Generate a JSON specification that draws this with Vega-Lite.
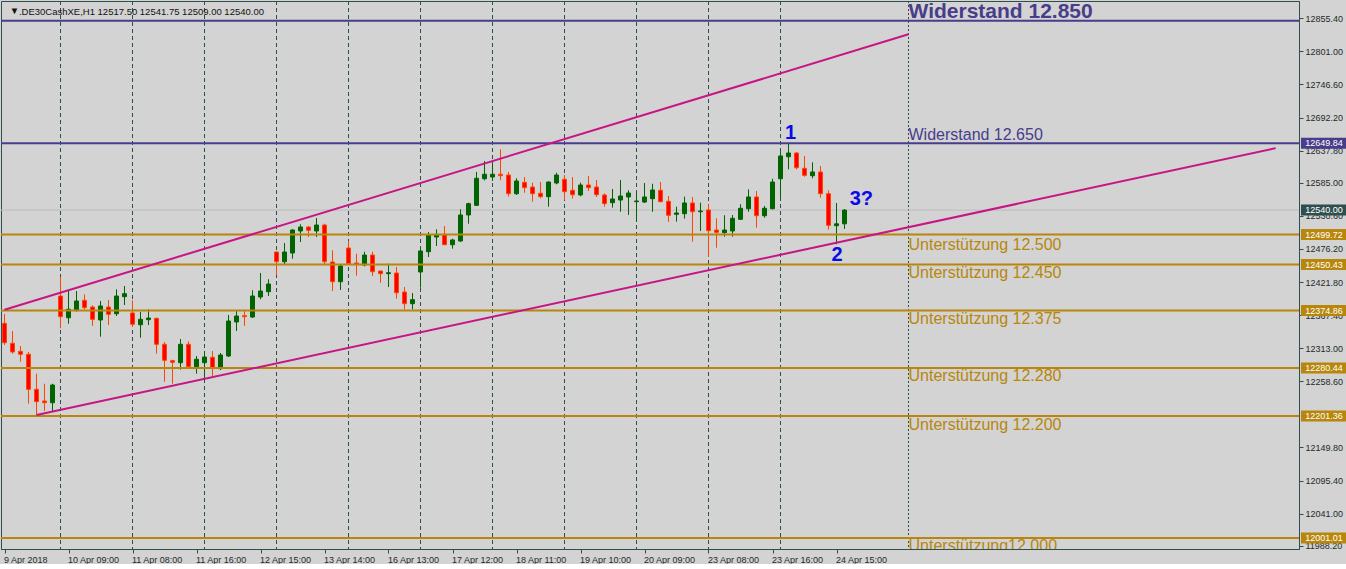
{
  "$schema": "https://vega.github.io/schema/vega-lite/v6.json",
  "width": 1298,
  "height": 548,
  "padding": 0,
  "background": "#d3d3d3",
  "config": {
    "view": {"stroke": "#2f4f4f", "strokeWidth": 1},
    "font": "Liberation Sans",
    "axis": {"labelOverlap": false, "labelFlush": false, "labelBound": false, "grid": false, "tickColor": "#2f4f4f", "domainColor": "#2f4f4f", "labelFont": "Liberation Sans", "labelFontSize": 9, "labelColor": "#1e2a2a", "tickSize": 4, "labelPadding": 2}
  },
  "datasets": {
    "candles": [
      {"i":0,"o":12353.9,"h":12369.2,"l":12318.3,"c":12322.0},
      {"i":1,"o":12321.1,"h":12341.3,"l":12304.0,"c":12306.8},
      {"i":2,"o":12307.9,"h":12316.6,"l":12290.8,"c":12303.0},
      {"i":3,"o":12303.0,"h":12306.8,"l":12221.8,"c":12245.4},
      {"i":4,"o":12245.4,"h":12271.1,"l":12202.4,"c":12225.1},
      {"i":5,"o":12226.2,"h":12254.6,"l":12209.8,"c":12223.4},
      {"i":6,"o":12223.4,"h":12254.6,"l":12209.8,"c":12252.5},
      {"i":7,"o":12398.8,"h":12430.1,"l":12345.7,"c":12364.8},
      {"i":8,"o":12363.1,"h":12408.7,"l":12353.3,"c":12377.0},
      {"i":9,"o":12375.8,"h":12407.0,"l":12373.0,"c":12390.6},
      {"i":10,"o":12391.7,"h":12401.6,"l":12377.0,"c":12379.6},
      {"i":11,"o":12380.7,"h":12383.5,"l":12349.5,"c":12360.5},
      {"i":12,"o":12359.4,"h":12390.6,"l":12331.9,"c":12382.4},
      {"i":13,"o":12380.7,"h":12392.2,"l":12351.1,"c":12368.7},
      {"i":14,"o":12369.7,"h":12409.8,"l":12365.9,"c":12398.8},
      {"i":15,"o":12397.7,"h":12415.3,"l":12384.0,"c":12402.6},
      {"i":16,"o":12370.9,"h":12391.7,"l":12347.9,"c":12352.3},
      {"i":17,"o":12351.6,"h":12372.5,"l":12330.3,"c":12360.5},
      {"i":18,"o":12359.9,"h":12377.0,"l":12351.1,"c":12362.6},
      {"i":19,"o":12362.2,"h":12363.0,"l":12304.0,"c":12319.4},
      {"i":20,"o":12319.4,"h":12323.2,"l":12257.9,"c":12293.1},
      {"i":21,"o":12292.5,"h":12294.1,"l":12254.6,"c":12289.8},
      {"i":22,"o":12289.2,"h":12328.1,"l":12277.7,"c":12319.4},
      {"i":23,"o":12319.4,"h":12324.3,"l":12280.9,"c":12282.6},
      {"i":24,"o":12282.6,"h":12300.2,"l":12271.1,"c":12294.8},
      {"i":25,"o":12289.2,"h":12308.4,"l":12261.9,"c":12298.5},
      {"i":26,"o":12298.0,"h":12308.4,"l":12266.8,"c":12280.9},
      {"i":27,"o":12279.3,"h":12305.1,"l":12277.2,"c":12301.8},
      {"i":28,"o":12300.2,"h":12367.6,"l":12298.5,"c":12357.7},
      {"i":29,"o":12356.1,"h":12375.3,"l":12341.3,"c":12365.9},
      {"i":30,"o":12366.4,"h":12374.2,"l":12349.5,"c":12364.8},
      {"i":31,"o":12364.3,"h":12408.2,"l":12362.6,"c":12398.8},
      {"i":32,"o":12397.2,"h":12436.6,"l":12393.4,"c":12407.0},
      {"i":33,"o":12405.9,"h":12426.3,"l":12398.8,"c":12418.5},
      {"i":34,"o":12471.1,"h":12472.0,"l":12433.3,"c":12455.2},
      {"i":35,"o":12455.2,"h":12485.9,"l":12449.8,"c":12471.1},
      {"i":36,"o":12469.5,"h":12508.5,"l":12460.1,"c":12507.3},
      {"i":37,"o":12505.7,"h":12516.7,"l":12487.6,"c":12512.2},
      {"i":38,"o":12512.2,"h":12513.9,"l":12495.8,"c":12506.8},
      {"i":39,"o":12505.7,"h":12527.0,"l":12495.8,"c":12515.5},
      {"i":40,"o":12515.5,"h":12517.7,"l":12450.9,"c":12455.2},
      {"i":41,"o":12454.7,"h":12473.9,"l":12407.0,"c":12422.3},
      {"i":42,"o":12422.3,"h":12450.9,"l":12408.7,"c":12448.1},
      {"i":43,"o":12477.7,"h":12489.2,"l":12450.9,"c":12451.9},
      {"i":44,"o":12453.1,"h":12468.4,"l":12432.2,"c":12451.4},
      {"i":45,"o":12449.8,"h":12471.6,"l":12447.6,"c":12466.2},
      {"i":46,"o":12466.2,"h":12471.6,"l":12431.7,"c":12438.8},
      {"i":47,"o":12439.9,"h":12440.5,"l":12420.5,"c":12435.5},
      {"i":48,"o":12435.5,"h":12451.9,"l":12413.6,"c":12437.1},
      {"i":49,"o":12436.6,"h":12446.5,"l":12394.4,"c":12404.2},
      {"i":50,"o":12405.4,"h":12413.6,"l":12376.3,"c":12386.2},
      {"i":51,"o":12386.2,"h":12403.7,"l":12377.0,"c":12392.7},
      {"i":52,"o":12438.3,"h":12474.4,"l":12412.5,"c":12472.8},
      {"i":53,"o":12471.6,"h":12504.0,"l":12462.9,"c":12499.1},
      {"i":54,"o":12495.8,"h":12508.5,"l":12481.0,"c":12500.2},
      {"i":55,"o":12500.2,"h":12513.9,"l":12482.8,"c":12483.1},
      {"i":56,"o":12483.1,"h":12493.0,"l":12476.6,"c":12490.9},
      {"i":57,"o":12489.2,"h":12541.3,"l":12488.1,"c":12532.0},
      {"i":58,"o":12532.0,"h":12552.2,"l":12517.7,"c":12550.6},
      {"i":59,"o":12547.9,"h":12602.7,"l":12546.8,"c":12592.3},
      {"i":60,"o":12591.6,"h":12620.7,"l":12589.0,"c":12598.9},
      {"i":61,"o":12594.4,"h":12615.3,"l":12587.9,"c":12598.9},
      {"i":62,"o":12598.9,"h":12640.0,"l":12589.0,"c":12596.6},
      {"i":63,"o":12597.7,"h":12602.7,"l":12562.1,"c":12567.0},
      {"i":64,"o":12567.0,"h":12592.3,"l":12564.9,"c":12587.9},
      {"i":65,"o":12585.7,"h":12594.4,"l":12568.6,"c":12576.9},
      {"i":66,"o":12578.0,"h":12585.1,"l":12553.8,"c":12567.0},
      {"i":67,"o":12567.6,"h":12586.2,"l":12559.4,"c":12562.1},
      {"i":68,"o":12562.1,"h":12587.0,"l":12545.6,"c":12586.2},
      {"i":69,"o":12584.6,"h":12601.5,"l":12582.4,"c":12597.7},
      {"i":70,"o":12590.7,"h":12597.7,"l":12556.6,"c":12570.3},
      {"i":71,"o":12572.6,"h":12594.4,"l":12558.8,"c":12565.3},
      {"i":72,"o":12564.9,"h":12585.1,"l":12562.7,"c":12581.3},
      {"i":73,"o":12581.3,"h":12596.1,"l":12571.4,"c":12576.9},
      {"i":74,"o":12578.0,"h":12589.5,"l":12561.6,"c":12565.3},
      {"i":75,"o":12564.9,"h":12567.6,"l":12545.6,"c":12550.6},
      {"i":76,"o":12552.2,"h":12574.7,"l":12544.0,"c":12558.3},
      {"i":77,"o":12556.6,"h":12589.5,"l":12537.4,"c":12563.2},
      {"i":78,"o":12561.6,"h":12572.6,"l":12532.0,"c":12568.1},
      {"i":79,"o":12553.8,"h":12567.6,"l":12521.0,"c":12555.0},
      {"i":80,"o":12553.3,"h":12584.6,"l":12551.7,"c":12561.6},
      {"i":81,"o":12558.8,"h":12583.4,"l":12537.4,"c":12573.1},
      {"i":82,"o":12572.6,"h":12586.2,"l":12553.0,"c":12553.8},
      {"i":83,"o":12554.5,"h":12563.2,"l":12520.5,"c":12531.5},
      {"i":84,"o":12533.1,"h":12545.6,"l":12521.0,"c":12535.3},
      {"i":85,"o":12534.1,"h":12562.1,"l":12525.9,"c":12551.7},
      {"i":86,"o":12551.7,"h":12561.6,"l":12488.1,"c":12537.4},
      {"i":87,"o":12537.4,"h":12552.2,"l":12505.7,"c":12538.5},
      {"i":88,"o":12540.2,"h":12549.6,"l":12462.9,"c":12506.2},
      {"i":89,"o":12507.3,"h":12526.5,"l":12478.2,"c":12503.5},
      {"i":90,"o":12502.9,"h":12531.6,"l":12496.3,"c":12507.3},
      {"i":91,"o":12505.7,"h":12532.0,"l":12496.3,"c":12526.5},
      {"i":92,"o":12524.9,"h":12549.6,"l":12523.8,"c":12543.0},
      {"i":93,"o":12542.3,"h":12574.2,"l":12537.4,"c":12561.6},
      {"i":94,"o":12561.6,"h":12571.4,"l":12511.1,"c":12530.8},
      {"i":95,"o":12530.8,"h":12546.8,"l":12527.5,"c":12543.0},
      {"i":96,"o":12542.3,"h":12591.6,"l":12541.3,"c":12586.2},
      {"i":97,"o":12591.6,"h":12635.5,"l":12561.6,"c":12629.0},
      {"i":98,"o":12627.8,"h":12649.2,"l":12607.1,"c":12633.9},
      {"i":99,"o":12633.9,"h":12635.5,"l":12607.1,"c":12609.7},
      {"i":100,"o":12608.7,"h":12629.0,"l":12594.9,"c":12597.2},
      {"i":101,"o":12596.6,"h":12618.6,"l":12592.3,"c":12602.7},
      {"i":102,"o":12602.7,"h":12612.5,"l":12560.4,"c":12567.0},
      {"i":103,"o":12567.0,"h":12572.6,"l":12507.8,"c":12515.0},
      {"i":104,"o":12514.4,"h":12551.7,"l":12483.8,"c":12517.5},
      {"i":105,"o":12517.5,"h":12541.75,"l":12509.0,"c":12540.0}
    ],
    "separators": [{"i":7},{"i":16},{"i":25},{"i":34},{"i":43},{"i":52},{"i":61},{"i":70},{"i":79},{"i":88},{"i":97}],
    "levels": [
      {"p":12851.4,"kind":"res"},
      {"p":12649.84,"kind":"res"},
      {"p":12499.72,"kind":"sup"},
      {"p":12450.43,"kind":"sup"},
      {"p":12374.86,"kind":"sup"},
      {"p":12280.44,"kind":"sup"},
      {"p":12201.36,"kind":"sup"},
      {"p":12001.01,"kind":"sup"}
    ],
    "channel": [
      {"line":"upper","i":0,"p":12376.3},
      {"line":"upper","i":113,"p":12829.0},
      {"line":"lower","i":4,"p":12203.2},
      {"line":"lower","i":158.9,"p":12641.9}
    ],
    "leveltext": [
      {"i":113,"p":12654.8,"label":"Widerstand 12.650","kind":"res"},
      {"i":113,"p":12473.9,"label":"Unterstützung 12.500","kind":"sup"},
      {"i":113,"p":12427.9,"label":"Unterstützung 12.450","kind":"sup"},
      {"i":113,"p":12352.3,"label":"Unterstützung 12.375","kind":"sup"},
      {"i":113,"p":12259.1,"label":"Unterstützung 12.280","kind":"sup"},
      {"i":113,"p":12178.5,"label":"Unterstützung 12.200","kind":"sup"},
      {"i":113,"p":11979.6,"label":"Unterstützung12.000","kind":"sup"}
    ],
    "waves": [
      {"i":98.27,"p":12656.4,"label":"1"},
      {"i":104.06,"p":12456.3,"label":"2"},
      {"i":107.1,"p":12548.4,"label":"3?"}
    ],
    "header": [
      {"i":0.65,"p":12862.0,"label":"▼"},
      {"i":1.8,"p":12860.8,"label":".DE30CashXE,H1  12517.50 12541.75 12509.00 12540.00"}
    ],
    "boxes": [
      {"p":12649.84,"kind":"res","label":"12649.84"},
      {"p":12540.00,"kind":"bid","label":"12540.00"},
      {"p":12499.72,"kind":"sup","label":"12499.72"},
      {"p":12450.43,"kind":"sup","label":"12450.43"},
      {"p":12374.86,"kind":"sup","label":"12374.86"},
      {"p":12280.44,"kind":"sup","label":"12280.44"},
      {"p":12201.36,"kind":"sup","label":"12201.36"},
      {"p":12001.01,"kind":"sup","label":"12001.01"}
    ]
  },
  "layer": [
    {
      "data": {"name": "separators"},
      "mark": {"type": "rule", "color": "#2f4f4f", "strokeWidth": 1, "strokeDash": [4, 3]},
      "encoding": {
        "x": {"field": "i", "type": "quantitative", "title": null, "scale": {"domain": [-0.4375, 161.8125], "nice": false, "zero": false, "padding": 0},
          "axis": {"values": [0,8,16,24,32,40,48,56,64,72,80,88,96,104], "labelExpr": "['9 Apr 2018','10 Apr 09:00','11 Apr 08:00','11 Apr 16:00','12 Apr 15:00','13 Apr 14:00','16 Apr 13:00','17 Apr 12:00','18 Apr 11:00','19 Apr 10:00','20 Apr 09:00','23 Apr 08:00','23 Apr 16:00','24 Apr 15:00'][round(datum.value/8)]", "labelAlign": "left", "labelBaseline": "top", "labelOffset": -1}}
      }
    },
    {
      "data": {"values": [{"i": 113}]},
      "mark": {"type": "rule", "color": "#2f4f4f", "strokeWidth": 1, "strokeDash": [2, 2]},
      "encoding": {
        "x": {"field": "i", "type": "quantitative", "title": null, "scale": {"domain": [-0.4375, 161.8125], "nice": false, "zero": false, "padding": 0},
          "axis": {"values": [0,8,16,24,32,40,48,56,64,72,80,88,96,104], "labelExpr": "['9 Apr 2018','10 Apr 09:00','11 Apr 08:00','11 Apr 16:00','12 Apr 15:00','13 Apr 14:00','16 Apr 13:00','17 Apr 12:00','18 Apr 11:00','19 Apr 10:00','20 Apr 09:00','23 Apr 08:00','23 Apr 16:00','24 Apr 15:00'][round(datum.value/8)]", "labelAlign": "left", "labelBaseline": "top", "labelOffset": -1}}
      }
    },
    {
      "data": {"values": [{"p": 12540.0}]},
      "mark": {"type": "rule", "color": "#bdbdbd", "strokeWidth": 1},
      "encoding": {
        "y": {"field": "p", "type": "quantitative", "title": null,
          "scale": {"domain": [11982.9, 12883.77], "nice": false, "zero": false, "padding": 0},
          "axis": {"orient": "right", "values": [12855.4, 12801, 12746.6, 12692.2, 12637.8, 12585, 12530.6, 12476.2, 12421.8, 12367.4, 12313, 12258.6, 12149.8, 12095.4, 12041, 11988.2], "format": ".2f", "labelAlign": "left", "labelBaseline": "middle", "labelOverlap": false}
        }
      }
    },
    {
      "data": {"name": "candles"},
      "mark": {"type": "rule", "strokeWidth": 1},
      "encoding": {
        "x": {"field": "i", "type": "quantitative", "title": null, "scale": {"domain": [-0.4375, 161.8125], "nice": false, "zero": false, "padding": 0},
          "axis": {"values": [0,8,16,24,32,40,48,56,64,72,80,88,96,104], "labelExpr": "['9 Apr 2018','10 Apr 09:00','11 Apr 08:00','11 Apr 16:00','12 Apr 15:00','13 Apr 14:00','16 Apr 13:00','17 Apr 12:00','18 Apr 11:00','19 Apr 10:00','20 Apr 09:00','23 Apr 08:00','23 Apr 16:00','24 Apr 15:00'][round(datum.value/8)]", "labelAlign": "left", "labelBaseline": "top", "labelOffset": -1}},
        "y": {"field": "l", "type": "quantitative", "title": null, "scale": {"domain": [11982.9, 12883.77], "nice": false, "zero": false, "padding": 0},
          "axis": {"orient": "right", "values": [12855.4, 12801, 12746.6, 12692.2, 12637.8, 12585, 12530.6, 12476.2, 12421.8, 12367.4, 12313, 12258.6, 12149.8, 12095.4, 12041, 11988.2], "format": ".2f", "labelAlign": "left", "labelBaseline": "middle", "labelOverlap": false}},
        "y2": {"field": "h"},
        "color": {"condition": {"test": "datum.c >= datum.o", "value": "#006400"}, "value": "#ff4500"}
      }
    },
    {
      "data": {"name": "candles"},
      "mark": {"type": "bar", "width": 4, "strokeWidth": 1, "orient": "vertical"},
      "encoding": {
        "x": {"field": "i", "type": "quantitative", "title": null, "scale": {"domain": [-0.4375, 161.8125], "nice": false, "zero": false, "padding": 0},
          "axis": {"values": [0,8,16,24,32,40,48,56,64,72,80,88,96,104], "labelExpr": "['9 Apr 2018','10 Apr 09:00','11 Apr 08:00','11 Apr 16:00','12 Apr 15:00','13 Apr 14:00','16 Apr 13:00','17 Apr 12:00','18 Apr 11:00','19 Apr 10:00','20 Apr 09:00','23 Apr 08:00','23 Apr 16:00','24 Apr 15:00'][round(datum.value/8)]", "labelAlign": "left", "labelBaseline": "top", "labelOffset": -1}},
        "y": {"field": "o", "type": "quantitative", "title": null, "scale": {"domain": [11982.9, 12883.77], "nice": false, "zero": false, "padding": 0},
          "axis": {"orient": "right", "values": [12855.4, 12801, 12746.6, 12692.2, 12637.8, 12585, 12530.6, 12476.2, 12421.8, 12367.4, 12313, 12258.6, 12149.8, 12095.4, 12041, 11988.2], "format": ".2f", "labelAlign": "left", "labelBaseline": "middle", "labelOverlap": false}},
        "y2": {"field": "c"},
        "fill": {"condition": {"test": "datum.c >= datum.o", "value": "#006400"}, "value": "#ff0000"},
        "stroke": {"condition": {"test": "datum.c >= datum.o", "value": "#006400"}, "value": "#ff4500"}
      }
    },
    {
      "data": {"name": "levels"},
      "mark": {"type": "rule", "strokeWidth": 2},
      "encoding": {
        "y": {"field": "p", "type": "quantitative", "title": null, "scale": {"domain": [11982.9, 12883.77], "nice": false, "zero": false, "padding": 0},
          "axis": {"orient": "right", "values": [12855.4, 12801, 12746.6, 12692.2, 12637.8, 12585, 12530.6, 12476.2, 12421.8, 12367.4, 12313, 12258.6, 12149.8, 12095.4, 12041, 11988.2], "format": ".2f", "labelAlign": "left", "labelBaseline": "middle", "labelOverlap": false}},
        "color": {"field": "kind", "type": "nominal", "legend": null, "scale": {"domain": ["res", "sup", "bid"], "range": ["#483d8b", "#b8860b", "#2f4f4f"]}}
      }
    },
    {
      "data": {"name": "channel"},
      "mark": {"type": "line", "color": "#c71585", "strokeWidth": 2},
      "encoding": {
        "x": {"field": "i", "type": "quantitative", "title": null, "scale": {"domain": [-0.4375, 161.8125], "nice": false, "zero": false, "padding": 0},
          "axis": {"values": [0,8,16,24,32,40,48,56,64,72,80,88,96,104], "labelExpr": "['9 Apr 2018','10 Apr 09:00','11 Apr 08:00','11 Apr 16:00','12 Apr 15:00','13 Apr 14:00','16 Apr 13:00','17 Apr 12:00','18 Apr 11:00','19 Apr 10:00','20 Apr 09:00','23 Apr 08:00','23 Apr 16:00','24 Apr 15:00'][round(datum.value/8)]", "labelAlign": "left", "labelBaseline": "top", "labelOffset": -1}},
        "y": {"field": "p", "type": "quantitative", "title": null, "scale": {"domain": [11982.9, 12883.77], "nice": false, "zero": false, "padding": 0},
          "axis": {"orient": "right", "values": [12855.4, 12801, 12746.6, 12692.2, 12637.8, 12585, 12530.6, 12476.2, 12421.8, 12367.4, 12313, 12258.6, 12149.8, 12095.4, 12041, 11988.2], "format": ".2f", "labelAlign": "left", "labelBaseline": "middle", "labelOverlap": false}},
        "detail": {"field": "line"}
      }
    },
    {
      "data": {"name": "leveltext"},
      "mark": {"type": "text", "align": "left", "baseline": "alphabetic", "font": "Liberation Sans", "fontSize": 16, "clip": true},
      "encoding": {
        "x": {"field": "i", "type": "quantitative", "title": null, "scale": {"domain": [-0.4375, 161.8125], "nice": false, "zero": false, "padding": 0},
          "axis": {"values": [0,8,16,24,32,40,48,56,64,72,80,88,96,104], "labelExpr": "['9 Apr 2018','10 Apr 09:00','11 Apr 08:00','11 Apr 16:00','12 Apr 15:00','13 Apr 14:00','16 Apr 13:00','17 Apr 12:00','18 Apr 11:00','19 Apr 10:00','20 Apr 09:00','23 Apr 08:00','23 Apr 16:00','24 Apr 15:00'][round(datum.value/8)]", "labelAlign": "left", "labelBaseline": "top", "labelOffset": -1}},
        "y": {"field": "p", "type": "quantitative", "title": null, "scale": {"domain": [11982.9, 12883.77], "nice": false, "zero": false, "padding": 0},
          "axis": {"orient": "right", "values": [12855.4, 12801, 12746.6, 12692.2, 12637.8, 12585, 12530.6, 12476.2, 12421.8, 12367.4, 12313, 12258.6, 12149.8, 12095.4, 12041, 11988.2], "format": ".2f", "labelAlign": "left", "labelBaseline": "middle", "labelOverlap": false}},
        "text": {"field": "label"},
        "color": {"field": "kind", "type": "nominal", "legend": null, "scale": {"domain": ["res", "sup", "bid"], "range": ["#483d8b", "#b8860b", "#2f4f4f"]}}
      }
    },
    {
      "data": {"values": [{"i": 113, "p": 12856.3, "label": "Widerstand 12.850"}]},
      "mark": {"type": "text", "align": "left", "baseline": "alphabetic", "font": "Liberation Sans", "fontSize": 21, "fontWeight": "bold", "color": "#483d8b"},
      "encoding": {
        "x": {"field": "i", "type": "quantitative", "title": null, "scale": {"domain": [-0.4375, 161.8125], "nice": false, "zero": false, "padding": 0},
          "axis": {"values": [0,8,16,24,32,40,48,56,64,72,80,88,96,104], "labelExpr": "['9 Apr 2018','10 Apr 09:00','11 Apr 08:00','11 Apr 16:00','12 Apr 15:00','13 Apr 14:00','16 Apr 13:00','17 Apr 12:00','18 Apr 11:00','19 Apr 10:00','20 Apr 09:00','23 Apr 08:00','23 Apr 16:00','24 Apr 15:00'][round(datum.value/8)]", "labelAlign": "left", "labelBaseline": "top", "labelOffset": -1}},
        "y": {"field": "p", "type": "quantitative", "title": null, "scale": {"domain": [11982.9, 12883.77], "nice": false, "zero": false, "padding": 0},
          "axis": {"orient": "right", "values": [12855.4, 12801, 12746.6, 12692.2, 12637.8, 12585, 12530.6, 12476.2, 12421.8, 12367.4, 12313, 12258.6, 12149.8, 12095.4, 12041, 11988.2], "format": ".2f", "labelAlign": "left", "labelBaseline": "middle", "labelOverlap": false}},
        "text": {"field": "label"}
      }
    },
    {
      "data": {"name": "waves"},
      "mark": {"type": "text", "align": "center", "baseline": "alphabetic", "font": "Liberation Sans", "fontSize": 20, "fontWeight": "bold", "color": "#0a0ae6"},
      "encoding": {
        "x": {"field": "i", "type": "quantitative", "title": null, "scale": {"domain": [-0.4375, 161.8125], "nice": false, "zero": false, "padding": 0},
          "axis": {"values": [0,8,16,24,32,40,48,56,64,72,80,88,96,104], "labelExpr": "['9 Apr 2018','10 Apr 09:00','11 Apr 08:00','11 Apr 16:00','12 Apr 15:00','13 Apr 14:00','16 Apr 13:00','17 Apr 12:00','18 Apr 11:00','19 Apr 10:00','20 Apr 09:00','23 Apr 08:00','23 Apr 16:00','24 Apr 15:00'][round(datum.value/8)]", "labelAlign": "left", "labelBaseline": "top", "labelOffset": -1}},
        "y": {"field": "p", "type": "quantitative", "title": null, "scale": {"domain": [11982.9, 12883.77], "nice": false, "zero": false, "padding": 0},
          "axis": {"orient": "right", "values": [12855.4, 12801, 12746.6, 12692.2, 12637.8, 12585, 12530.6, 12476.2, 12421.8, 12367.4, 12313, 12258.6, 12149.8, 12095.4, 12041, 11988.2], "format": ".2f", "labelAlign": "left", "labelBaseline": "middle", "labelOverlap": false}},
        "text": {"field": "label"}
      }
    },
    {
      "data": {"name": "header"},
      "mark": {"type": "text", "align": "left", "baseline": "alphabetic", "font": "Liberation Sans", "fontSize": 9.5, "color": "#111111"},
      "encoding": {
        "x": {"field": "i", "type": "quantitative", "title": null, "scale": {"domain": [-0.4375, 161.8125], "nice": false, "zero": false, "padding": 0},
          "axis": {"values": [0,8,16,24,32,40,48,56,64,72,80,88,96,104], "labelExpr": "['9 Apr 2018','10 Apr 09:00','11 Apr 08:00','11 Apr 16:00','12 Apr 15:00','13 Apr 14:00','16 Apr 13:00','17 Apr 12:00','18 Apr 11:00','19 Apr 10:00','20 Apr 09:00','23 Apr 08:00','23 Apr 16:00','24 Apr 15:00'][round(datum.value/8)]", "labelAlign": "left", "labelBaseline": "top", "labelOffset": -1}},
        "y": {"field": "p", "type": "quantitative", "title": null, "scale": {"domain": [11982.9, 12883.77], "nice": false, "zero": false, "padding": 0},
          "axis": {"orient": "right", "values": [12855.4, 12801, 12746.6, 12692.2, 12637.8, 12585, 12530.6, 12476.2, 12421.8, 12367.4, 12313, 12258.6, 12149.8, 12095.4, 12041, 11988.2], "format": ".2f", "labelAlign": "left", "labelBaseline": "middle", "labelOverlap": false}},
        "text": {"field": "label"}
      }
    },
    {
      "data": {"name": "boxes"},
      "mark": {"type": "rule", "strokeWidth": 11, "strokeCap": "butt", "clip": false},
      "encoding": {
        "x": {"datum": 162.06, "type": "quantitative", "scale": {"domain": [-0.4375, 161.8125], "nice": false, "zero": false, "padding": 0}},
        "x2": {"datum": 168.5},
        "y": {"field": "p", "type": "quantitative", "title": null, "scale": {"domain": [11982.9, 12883.77], "nice": false, "zero": false, "padding": 0},
          "axis": {"orient": "right", "values": [12855.4, 12801, 12746.6, 12692.2, 12637.8, 12585, 12530.6, 12476.2, 12421.8, 12367.4, 12313, 12258.6, 12149.8, 12095.4, 12041, 11988.2], "format": ".2f", "labelAlign": "left", "labelBaseline": "middle", "labelOverlap": false}},
        "color": {"field": "kind", "type": "nominal", "legend": null, "scale": {"domain": ["res", "sup", "bid"], "range": ["#483d8b", "#b8860b", "#2f4f4f"]}}
      }
    },
    {
      "data": {"name": "boxes"},
      "mark": {"type": "text", "align": "left", "baseline": "middle", "font": "Liberation Sans", "fontSize": 9, "color": "#ffffff", "clip": false},
      "encoding": {
        "x": {"datum": 162.6, "type": "quantitative", "scale": {"domain": [-0.4375, 161.8125], "nice": false, "zero": false, "padding": 0}},
        "y": {"field": "p", "type": "quantitative", "title": null, "scale": {"domain": [11982.9, 12883.77], "nice": false, "zero": false, "padding": 0},
          "axis": {"orient": "right", "values": [12855.4, 12801, 12746.6, 12692.2, 12637.8, 12585, 12530.6, 12476.2, 12421.8, 12367.4, 12313, 12258.6, 12149.8, 12095.4, 12041, 11988.2], "format": ".2f", "labelAlign": "left", "labelBaseline": "middle", "labelOverlap": false}},
        "text": {"field": "label"}
      }
    }
  ]
}
